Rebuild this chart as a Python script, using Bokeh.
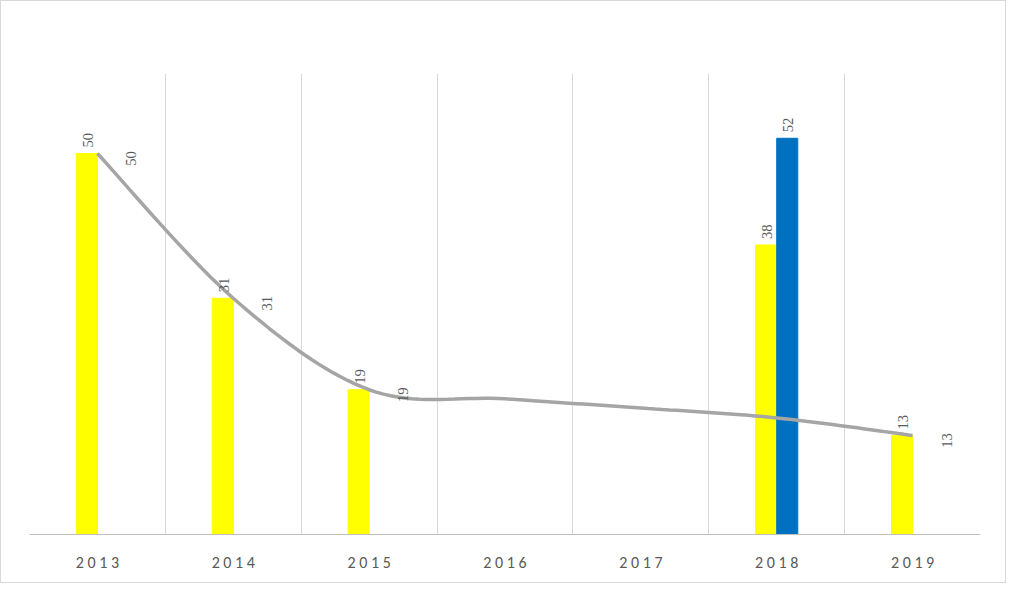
import numpy as np
from bokeh.plotting import figure
from bokeh.models import ColumnDataSource, Legend, LegendItem, FixedTicker, Range1d, LabelSet
from bokeh.embed import file_html
from bokeh.resources import INLINE

years = ["2013", "2014", "2015", "2016", "2017", "2018", "2019"]
population = [50, 31, 19, None, None, 38, 13]
business = [None, None, None, None, None, 52, None]
trend = [50, 31, 19, 17.8, 16.6, 15.3, 13]
trend_labels = ["50", "31", "19", "", "", "", "13"]

p = figure(width=1006, height=583, output_backend="svg", toolbar_location=None,
           x_range=Range1d(-0.5, 6.5), y_range=Range1d(0, 60.5),
           min_border_left=28, min_border_right=27, min_border_bottom=50, min_border_top=72)
p.styles = {"border": "1px solid #d9d9d9"}
p.outline_line_color = None
p.yaxis.visible = False
p.ygrid.visible = False
p.xgrid.ticker = FixedTicker(ticks=[i + 0.5 for i in range(6)])
p.xgrid.grid_line_color = "#d9d9d9"
p.xaxis.ticker = FixedTicker(ticks=list(range(7)))
p.xaxis.major_label_overrides = {i: " ".join(y) for i, y in enumerate(years)}
p.xaxis.major_label_text_font = "Calibri, Liberation Sans"
p.xaxis.major_label_text_font_size = "12pt"
p.xaxis.major_label_text_color = "#595959"
p.xaxis.major_label_standoff = 12
p.xaxis.axis_line_color = "#bfbfbf"
p.xaxis.major_tick_line_color = None
p.xaxis.minor_tick_line_color = None

w = 0.155
xs = np.arange(7)
pop_x = [x - w / 2 for x, v in zip(xs, population) if v is not None]
pop_v = [v for v in population if v is not None]
bus_x = [x + w / 2 for x, v in zip(xs, business) if v is not None]
bus_v = [v for v in business if v is not None]
r1 = p.vbar(x=pop_x, top=pop_v, width=w, color="#ffff00")
r2 = p.vbar(x=bus_x, top=bus_v, width=w, color="#0070c0")

# smooth (Catmull-Rom) rendering of trend through its points
pts = np.array(list(zip(xs, trend)), dtype=float)
cx, cy = [], []
ext = np.vstack([pts[0], pts, pts[-1]])
for i in range(1, len(ext) - 2):
    p0, p1, p2, p3 = ext[i - 1], ext[i], ext[i + 1], ext[i + 2]
    for t in np.linspace(0, 1, 20):
        c = 0.5 * ((2 * p1) + (-p0 + p2) * t + (2 * p0 - 5 * p1 + 4 * p2 - p3) * t ** 2 + (-p0 + 3 * p1 - 3 * p2 + p3) * t ** 3)
        cx.append(c[0]); cy.append(c[1])
r3 = p.line(cx, cy, line_color="#a5a5a5", line_width=3.5)

lab_font = "Calibri, Liberation Sans"
src1 = ColumnDataSource(dict(x=pop_x, y=pop_v, t=[str(v) for v in pop_v]))
src2 = ColumnDataSource(dict(x=bus_x, y=bus_v, t=[str(v) for v in bus_v]))
tl = [(x, v, s) for x, v, s in zip(xs, trend, trend_labels) if s]
src3 = ColumnDataSource(dict(x=[a[0] for a in tl], y=[a[1] for a in tl], t=[a[2] for a in tl]))
for src, xo, yo, al in [(src1, 6, 6, "left"), (src2, 6, 6, "left"), (src3, 34, -5, "center")]:
    p.add_layout(LabelSet(x="x", y="y", text="t", source=src, angle=np.pi / 2,
                          x_offset=xo, y_offset=yo, text_align=al, text_baseline="bottom" if al == "left" else "middle",
                          text_font=lab_font, text_font_size="11pt", text_color="#595959"))

legend = Legend(items=[LegendItem(label="Population", renderers=[r1]),
                       LegendItem(label="Business community", renderers=[r2]),
                       LegendItem(label="Trend", renderers=[r3])],
                orientation="horizontal", location=(212, 484), border_line_color=None,
                background_fill_alpha=0,
                label_text_font=lab_font, label_text_font_size="12.5pt", label_text_color="#404040",
                glyph_width=45, glyph_height=12, spacing=25, margin=0, padding=6)
p.add_layout(legend, "center")

open("out.html", "w").write(file_html(p, INLINE))
